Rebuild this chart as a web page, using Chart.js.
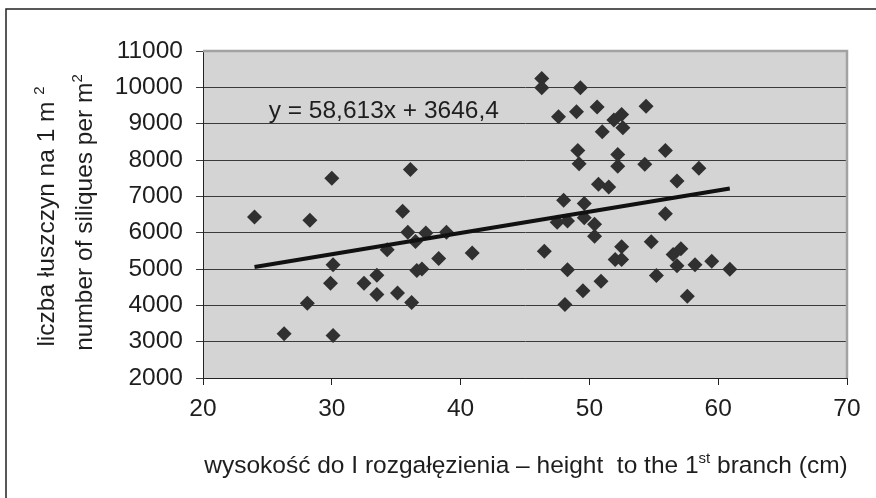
<!DOCTYPE html>
<html lang="pl">
<head>
    <meta charset="UTF-8">
    <title>Liczba łuszczyn a wysokość do I rozgałęzienia</title>
    <script src="https://cdn.jsdelivr.net/npm/chart.js@4.4.1/dist/chart.umd.min.js"></script>
    <style>
        html, body { margin: 0; padding: 0; background: #fff; }
        .wrap { width: 876px; height: 498px; }
    </style>
</head>
<body>
<div class="wrap">
    <canvas id="siliques-chart" width="876" height="498"></canvas>
</div>
<script>
    // height to the 1st branch (cm)
    const heights = [24.0, 26.3, 28.1, 28.3, 29.9, 30.0, 30.1, 30.1, 32.5, 33.5, 33.5, 34.3, 35.1, 35.5,
        35.9, 36.1, 36.2, 36.5, 36.6, 37.0, 37.3, 38.3, 38.9, 40.9, 46.3, 46.3, 46.5, 47.5, 47.6, 48.0,
        48.1, 48.3, 48.3, 49.0, 49.1, 49.2, 49.3, 49.5, 49.6, 49.6, 50.4, 50.4, 50.6, 50.7, 50.9, 51.0,
        51.5, 51.9, 52.0, 52.2, 52.2, 52.5, 52.5, 52.5, 52.6, 54.3, 54.4, 54.8, 55.2, 55.9, 55.9, 56.5,
        56.8, 56.8, 57.1, 57.6, 58.2, 58.5, 59.5, 60.9];
    // number of siliques per m2
    const siliques = [6430, 3220, 4060, 6340, 4610, 7500, 5120, 3170, 4610, 4830, 4300, 5530, 4340, 6590,
        6010, 7740, 4080, 5760, 4960, 5000, 5990, 5290, 6010, 5440, 10240, 9990, 5490, 6290, 9190, 6890,
        4020, 6320, 4980, 9330, 8260, 7900, 9990, 4400, 6800, 6410, 6230, 5900, 9460, 7330, 4660, 8780,
        7260, 9100, 5260, 8150, 7830, 9250, 5610, 5260, 8890, 7880, 9480, 5750, 4820, 8260, 6520, 5400,
        7420, 5090, 5560, 4250, 5120, 7770, 5210, 4990];

    const slope = 58.613;
    const intercept = 3646.4;
    const equation = 'y = 58,613x + 3646,4';

    const xRange = [20, 70, 10];
    const yRange = [2000, 11000, 1000];

    const xTitle = ['wysokość do I rozgałęzienia – height  to the 1', 'st', ' branch (cm)'];
    const yTitle1 = ['liczba łuszczyn na 1 m ', '2'];
    const yTitle2 = ['number of siliques per m', '2'];

    const FONT = "'Liberation Sans', Arial, sans-serif";
    const INK = '#1e1e1e';

    const points = heights.map((h, i) => ({x: h, y: siliques[i]}));
    const xMin = Math.min(...heights), xMax = Math.max(...heights);
    const trend = [
        {x: xMin, y: slope * xMin + intercept},
        {x: xMax, y: slope * xMax + intercept}
    ];

    // draws text pieces, every second one as superscript
    function drawRich(ctx, parts, x, y, size, align) {
        const big = size + 'px ' + FONT, small = Math.round(size * 0.62) + 'px ' + FONT;
        let total = 0;
        parts.forEach((p, i) => { ctx.font = i % 2 ? small : big; total += ctx.measureText(p).width; });
        let cx = align === 'center' ? x - total / 2 : x;
        parts.forEach((p, i) => {
            ctx.font = i % 2 ? small : big;
            ctx.fillText(p, cx, i % 2 ? y - size * 0.42 : y);
            cx += ctx.measureText(p).width;
        });
    }

    const decor = {
        id: 'decor',
        beforeDraw(chart) {
            const {ctx, chartArea: a} = chart;
            ctx.save();
            ctx.fillStyle = '#d4d4d4';
            ctx.fillRect(a.left, a.top, a.right - a.left, a.bottom - a.top);
            ctx.restore();
        },
        afterDraw(chart) {
            const {ctx, chartArea: a, scales} = chart;
            ctx.save();
            // plot frame, top and right
            ctx.strokeStyle = '#a2a2a2';
            ctx.lineWidth = 2.5;
            ctx.beginPath();
            ctx.moveTo(a.left, a.top);
            ctx.lineTo(a.right, a.top);
            ctx.lineTo(a.right, a.bottom);
            ctx.stroke();
            // outer frame
            ctx.strokeStyle = '#222';
            ctx.lineWidth = 1.5;
            ctx.beginPath();
            ctx.moveTo(6, 498);
            ctx.lineTo(6, 9);
            ctx.lineTo(876, 9);
            ctx.stroke();

            ctx.fillStyle = INK;
            ctx.textBaseline = 'alphabetic';
            // trend equation
            ctx.font = '24.5px ' + FONT;
            ctx.fillText(equation, scales.x.getPixelForValue(25.1), scales.y.getPixelForValue(9150));
            // x title
            drawRich(ctx, xTitle, (a.left + a.right) / 2 + 1, 473, 24.5, 'center');
            // y title, two rotated lines
            const cy = (a.top + a.bottom) / 2 + 2;
            ctx.translate(54, cy);
            ctx.rotate(-Math.PI / 2);
            drawRich(ctx, yTitle1, 0, 0, 24.5, 'center');
            ctx.rotate(Math.PI / 2);
            ctx.translate(38, -4);
            ctx.rotate(-Math.PI / 2);
            drawRich(ctx, yTitle2, 0, 0, 24.5, 'center');
            ctx.restore();
        }
    };

    new Chart(document.getElementById('siliques-chart'), {
        type: 'scatter',
        data: {
            datasets: [{
                label: 'trend',
                type: 'line',
                data: trend,
                borderColor: '#111',
                borderWidth: 4,
                pointRadius: 0,
                order: 0
            }, {
                label: 'siliques',
                data: points,
                pointStyle: 'rectRot',
                pointRadius: 7.5,
                backgroundColor: '#303030',
                borderColor: '#303030',
                borderWidth: 0,
                order: 1
            }]
        },
        options: {
            responsive: false,
            animation: false,
            layout: {padding: {top: 51, right: 29, left: 0, bottom: 0}},
            plugins: {legend: {display: false}, tooltip: {enabled: false}},
            scales: {
                x: {
                    type: 'linear',
                    min: xRange[0], max: xRange[1],
                    afterFit: s => { s.height = 120; },
                    ticks: {stepSize: xRange[2], color: INK, padding: 10, font: {family: FONT, size: 24.5}},
                    grid: {drawOnChartArea: false, drawTicks: true, tickLength: 7, color: '#222'},
                    border: {color: '#222', width: 1}
                },
                y: {
                    type: 'linear',
                    min: yRange[0], max: yRange[1],
                    afterFit: s => { s.width = 203; },
                    ticks: {stepSize: yRange[2], color: INK, padding: 13, font: {family: FONT, size: 24.5},
                        callback: v => String(v)},
                    grid: {color: '#3a3a3a', lineWidth: 1, tickLength: 7},
                    border: {color: '#222', width: 1}
                }
            }
        },
        plugins: [decor]
    });
</script>
</body>
</html>
